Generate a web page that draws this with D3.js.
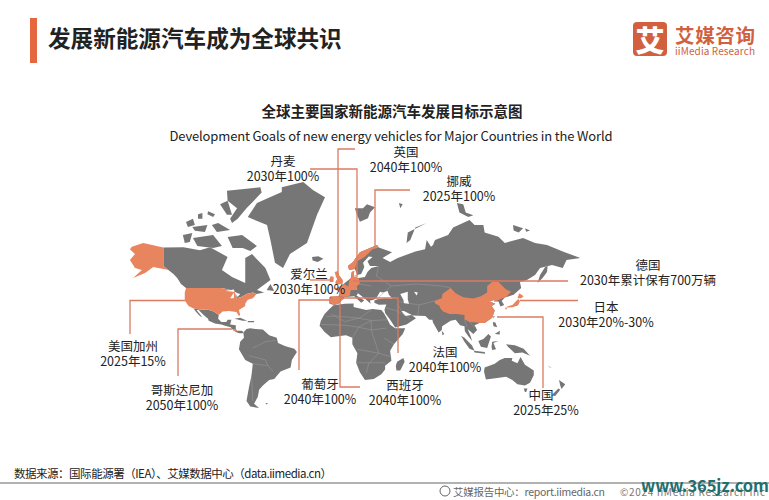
<!DOCTYPE html>
<html>
<head>
<meta charset="utf-8">
<title>全球主要国家新能源汽车发展目标示意图</title>
<script src="https://cdnjs.cloudflare.com/ajax/libs/d3/7.8.5/d3.min.js"></script>
<style>
  html, body { margin: 0; padding: 0; background: #fff; }
  text { font-family: "Noto Sans CJK SC", "Noto Sans", sans-serif; fill: #222; }
</style>
</head>
<body>
<div id="chart"></div>
<script>
// annotated targets
var countries = ["丹麦", "英国", "挪威", "爱尔兰", "德国", "日本", "法国", "西班牙", "葡萄牙", "美国加州", "哥斯达尼加", "中国"];
var targets = ["2030年100%", "2040年100%", "2025年100%", "2030年100%", "2030年累计保有700万辆", "2030年20%-30%",
  "2040年100%", "2040年100%", "2040年100%", "2025年15%", "2050年100%", "2025年25%"];

// outlines, [lon, lat]
var land = [
  // canada
  [[-141,69.8],[-125,70],[-112,68.6],[-104,70],[-90,65.5],[-94.5,58],[-86.5,54.5],[-76,51.5],[-76,65],[-70.6,66.8],[-60,59],[-56,53],[-66.7,47.7],[-61,46],[-67,45],[-70,46],[-75,45],[-79,43],[-83,42],[-83,46],[-89,48],[-95,49],[-123,49],[-127,51],[-130,54],[-133,56],[-141,60]],
  // mexico + central america
  [[-117,32.5],[-111,31.3],[-106,31.5],[-101,29.5],[-97,26],[-97.5,22],[-95,18.5],[-91,18.5],[-90,21],[-87,21],[-88,16],[-83.5,15],[-83.5,11],[-82.5,9.5],[-79,9.5],[-77.3,8.5],[-78,7.5],[-80.5,7.5],[-83,8.3],[-85.7,10],[-87.5,13],[-92,14.5],[-95,16],[-100,17],[-105,20],[-105.5,22],[-109,26],[-113,31],[-114.7,31],[-110,23.5],[-112,25],[-115,29]],
  // greenland
  [[-47,82.6],[-30,83.5],[-22,82.1],[-12.7,80.9],[-19,77.9],[-27,71.5],[-40.5,66.8],[-46,59],[-52.4,62],[-56,72.2],[-58.7,75.8],[-74,77.5],[-66.7,79.9],[-47,81.8]],
  // arctic canada
  [[-90.5,82],[-64,82.6],[-63,81.7],[-75,79],[-82,77.2],[-86.5,76.3],[-88,77.2],[-82.5,79],[-90,80.3]],
  [[-96,79.7],[-90,80.3],[-86.5,77.9],[-90.5,77.9]],
  [[-123,76.5],[-117.5,77.2],[-116,75.8],[-121.5,75.3]],
  [[-113.5,78],[-110,78.2],[-110,77.2],[-113.5,77.2]],
  [[-105.5,78.5],[-100,78],[-101.5,77.5],[-106,78]],
  [[-118,75.3],[-106,75.8],[-108,74.1],[-116,74.4]],
  [[-102.5,75.8],[-97.5,76.3],[-88,74.6],[-98.5,74.1]],
  [[-125.5,73.4],[-118,73.9],[-120,71.7],[-124,71.5]],
  [[-117.5,72.7],[-101.5,73.4],[-94.5,70.5],[-101.5,69.6],[-114,70.5]],
  [[-90,72.9],[-78.5,73.4],[-66.7,70.5],[-72,68.2],[-78,69.6],[-86,69.6]],
  [[-59,47.7],[-56,51],[-53,47]],
  // caribbean
  [[-84.5,22],[-80,23],[-74.5,20],[-78,20]],
  [[-74,19.5],[-69,19.5],[-69,18.3],[-74,18.2]],
  // south america
  [[-77.5,8],[-75,11],[-72,12],[-68,11],[-62,10.5],[-57,6],[-51,4],[-50,0],[-44,-2.5],[-37,-4.5],[-35,-7],[-39,-14],[-40,-22],[-48,-26],[-53,-34],[-57,-35],[-62,-39],[-65,-42],[-66,-47],[-69,-52],[-65,-55],[-72,-54],[-75,-50],[-73,-40],[-71,-30],[-70,-18],[-76,-14],[-81,-5],[-80,1],[-77,4]],
  // africa
  [[-6,35.8],[3,37],[10,37.3],[10,34],[15,32.5],[20,31],[25,32],[32,31],[34,28],[37,21],[39,15.5],[43,12],[51,12],[49,7],[42,-1],[39,-6],[40,-15],[35,-20],[35,-24],[32,-29],[26,-34],[19,-35],[15,-27],[12,-17],[13,-8],[9,-1],[9,4],[4,6],[-4,5],[-8,4.5],[-13,8.5],[-17,14.5],[-16,20],[-13,27],[-10,31]],
  [[49.5,-12],[50.5,-16],[47,-25],[44,-25],[43.5,-20],[44.5,-16]],
  // eurasia
  [[-9,37],[-9.5,39],[-9,43],[-2,43.5],[-1,46],[-4.5,48.5],[-1.5,49.5],[2,51],[4,52],[8,54],[8.5,57],[10.5,57.5],[10,54.5],[14,54],[19,54.5],[21,57],[24,59],[30,60],[23,60],[21,63],[25,65.5],[22,65.7],[17.5,62],[18.5,59.5],[16,56],[13,55.5],[11,58.5],[6.5,58],[5.5,60],[9.5,62.5],[15,67.7],[28.6,71],[30,69.8],[40.5,67.7],[33,65],[39,62.5],[45,65],[59,68],[66.7,69],[68,72.2],[71.4,70.2],[73,71],[74.6,72.2],[85,73.4],[89,75.2],[102,77],[106,75.8],[113,75.8],[114,74],[125,73],[130,71.5],[144.5,72.7],[154,71.5],[163.5,71],[176,68],[190,65],[179,63.7],[176,59],[167.5,60.6],[158,59],[154,55.5],[147.6,53],[142,52],[143,49],[137,44.5],[130,42.5],[127.5,39.5],[129.5,36],[126.5,34.5],[125,39],[121.5,39],[122,40.5],[118,39],[122.5,37],[119.5,35],[122,30.5],[120,23],[114,17.5],[110,17.5],[106,15],[108,10],[105,7],[100.5,11],[103,5],[104,1.5],[100.5,6],[98.3,9],[98,14],[94.5,15],[91,21],[87,20],[80.3,14],[80,10],[77.5,8],[73,18],[72.5,21],[70,21],[67,25],[57,25.5],[50,30],[48,30],[51,25],[56,26],[59.5,22.5],[52,16],[43,12.7],[39,21],[35,28],[34.5,31.5],[36,36.5],[30,36.2],[26.5,38],[26.5,40],[29,41],[35,42],[41,41.5],[38,44.5],[37,47],[33,46],[31,46.5],[28,42],[26,40.5],[23,40],[23.5,37],[19.5,41],[13.5,45.5],[12.3,44],[18.5,40],[16,38],[10.5,43.5],[3,43],[0,39.5],[-2,37],[-5.5,36]],
  // islands north
  [[-23,65.5],[-18,65.8],[-14,64.5],[-18.5,62.5],[-22.5,63.5]],
  [[11,79],[17.5,79],[20.6,79.7],[27,79.2],[23,78.3],[21.4,77.3],[15,76.6],[12.7,77.9]],
  [[52,71.5],[53,74],[68,76.3],[59,75.2],[55,72.2]],
  [[92,79.9],[97,79.7],[99,78.3],[105,77.8],[101,77.5],[94,78.3]],
  [[136.5,75.8],[144.5,75],[141,74],[137,74.5]],
  [[146,75],[150,74.5],[147,74.2]],
  [[46,79.9],[49,79.7],[47,79]],
  [[164,60],[162,59.5],[158,55.5],[156,51.5],[160,54],[163.5,57]],
  // islands south and east
  [[80,9.5],[82,7],[80.5,6]],
  [[121,25],[122,25],[121,22]],
  [[120.5,18.5],[122.5,18],[124,13],[121,14]],
  [[122,7],[126,9.5],[126,6.5]],
  [[109,1.5],[113,3],[117,7],[119,5],[117.5,0.5],[116,-4],[111,-3]],
  [[95.3,5.5],[98,4],[104,-2],[106,-6],[102,-4.5],[98,1]],
  [[105.5,-6],[114,-7],[114.5,-8.5],[106,-7.5]],
  [[119.5,-3],[120,1],[125,1.5],[121,0],[123,-5],[120,-5.5]],
  [[131,-1],[138,-1.7],[145,-4.5],[150,-10],[144,-7.5],[138,-8],[132.5,-3]],
  [[114,-22],[122,-18],[126,-14],[130,-12],[136,-12],[135.5,-15],[140,-17.5],[142.5,-11],[146,-19],[153,-25],[153,-30],[150,-37],[146,-39],[140,-38],[136,-35],[131,-31.5],[124,-33],[115,-34.5],[113.5,-26]],
  [[145,-41],[148,-41],[147,-43.5],[146,-43.5]],
  [[173,-35],[178,-38],[175,-41.5],[174,-39]],
  [[172.5,-41],[174,-42],[170,-46.5],[167,-46]],
  [[164,-20],[167,-22],[166,-22]],
  [[-60,-51.5],[-58,-51.5],[-59,-52.5]]
];

var highlighted = [
  // alaska
  [[-166,70.2],[-157,71.5],[-141,69.8],[-141,60],[-133,56],[-137,58],[-149,59.5],[-155.5,56.5],[-165,54],[-158,58],[-163.5,59],[-167.5,63.7],[-163.5,66.8],[-167.5,69]],
  // usa
  [[-123,49],[-95,49],[-89,48],[-84,46],[-83,42],[-79,43],[-75,45],[-70,46],[-67,45],[-70,42],[-74,40.5],[-76,37],[-76,35],[-81,31],[-80,26],[-81,25],[-83,29],[-89,30],[-94,29.5],[-97,26],[-101,29.5],[-106,31.5],[-111,31.3],[-117,32.5],[-121,35],[-124,40],[-124,46]],
  // costa rica
  [[-85.7,11],[-83.7,11],[-82.6,9.6],[-83,8.3],[-85.7,10]],
  // china
  [[74,39.5],[80,42],[80.5,45],[87,49],[91,45.5],[97,42.7],[105,41.7],[111,43.5],[116,46],[116,50],[120,52],[125,52],[131,48],[135,46.5],[131,43],[128,42],[124.3,40],[121.5,39],[122,40.5],[118,39],[122.5,37],[119.5,35],[122,30.5],[120,23],[114,17.5],[110,17.5],[108,18],[102,18.5],[98,21.5],[98,26],[92,27],[86,27],[81,29.5],[79,32.5],[78,35.5],[75,37]],
  // japan
  [[130.9,34],[136,36],[140,40.5],[141.3,41],[142,39],[140.5,35.5],[136,33.7],[132,33.5]],
  [[140,42],[141.5,45.5],[145,43.5],[143,42]],
  [[130,33.5],[131.8,33],[131,31]],
  // norway
  [[28.6,71],[15,67.7],[9.5,62.5],[5.5,60],[6.5,58],[11,58.5],[13,63],[19,65.6],[25,69],[30,69.8]],
  // denmark
  [[8,55],[8.5,57],[10.5,57.5],[10,55],[12.5,55.5],[12,54.7]],
  // uk, ireland
  [[-4,50.5],[1.5,51.2],[1.5,53],[-1.5,55.5],[-2.5,57.5],[-5,57],[-4,54.5],[-3,53.5],[-4.5,52]],
  [[-9,52],[-6,52],[-5.7,54.5],[-8,55],[-9,54]],
  // france
  [[-1.5,43.4],[-1,46],[-4.5,48.5],[-1.5,49.5],[2.5,51],[8,49],[7,44],[3,43]],
  // germany
  [[6,51],[7,53.5],[9,55],[14,54],[15,51],[12.5,50],[13,47.7],[7.5,47.7],[6,49.5]],
  // spain, portugal
  [[-9,43.5],[-2,43.5],[3,42],[0,39.5],[-2,37],[-5.5,36],[-7.3,37.2],[-7,42]],
  [[-9,37],[-9.5,39],[-9,42],[-7,42],[-7.3,37.2]]
];

var lakes = [
  [[-92,47],[-85,48],[-84.5,46.5]],
  [[-88,42],[-85,46],[-85,42]],
  [[-84,46],[-80,45],[-82,43]],
  [[-83,41.7],[-76,44],[-79,43.2]],
  [[47,45],[53,46.5],[53,41],[54,37],[50,37.5],[49.5,40.5]],
  [[58,46.5],[61,46],[60,44]]
];

var borders = [
  [[-12,24],[-5,25],[12,23],[25,20],[37,21]],
  [[-8,27],[3,19],[15,23],[24,31]],
  [[-16,16],[4,15],[14,13],[24,10],[36,12]],
  [[9,4],[14,13],[24,20]],
  [[24,20],[24,10],[30,-8],[22,-18],[20,-28]],
  [[13,-5],[30,-8],[40,-11]],
  [[12,-17],[35,-17]],
  [[34,4],[42,-1]],
  [[-70,-18],[-58,-20],[-54,-26]],
  [[-70,-4],[-60,1],[-52,2]],
  [[-73,-10],[-60,-14],[-58,-20]],
  [[-71,-30],[-70,-50]],
  [[28,41],[40,50],[60,51],[80,50],[87,49]],
  [[30,60],[28,55],[40,50]],
  [[24,50],[15,51]],
  [[46,39],[62,36],[74,39.5]],
  [[45,37],[48,30]],
  [[62,36],[61,25]],
  [[36,33],[45,30],[55,22]],
  [[98,21.5],[100,13]],
  [[102,18.5],[106,13]]
];

var mapLats = [-55, -35, -11, 0, 10, 26, 36, 43, 49, 60, 65, 71, 77, 83.5];
var mapYs = [408, 380, 357, 343, 330, 315, 305, 297, 288, 266, 258, 245, 220, 182];

var leaders = [
  [[338,275],[338,149],[355,149]],
  [[310,169],[357,169],[357,277]],
  [[375,247],[375,190],[410,190]],
  [[310,280],[333,280]],
  [[353,281],[568,281]],
  [[520,300.5],[578,300.5]],
  [[497,317],[543,317],[543,388]],
  [[340,298],[398,298],[398,353]],
  [[340,298],[340,387],[360,387]],
  [[330,300],[299,300],[299,370]],
  [[185,300.5],[130,300.5],[130,334]],
  [[232,329],[178,329],[178,376]]
];
var labelPos = [[283,160],[406,151],[459,180],[309,273],[648,264],[606,306],[445,351],[405,384],[320,383],[133,345],[182,389],[541,394]];
var targetPos = [[283,175],[406,166],[459,195],[309,288],[648,279],[606,321],[445,366],[405,399],[320,398],[133,360],[182,404],[546,409]];

var w = 769, h = 500;
var svg = d3.select("#chart").append("svg").attr("width", w).attr("height", h)
  .style("display", "block");

var x = d3.scaleLinear().domain([0, 100]).range([341, 467]);
var y = d3.scaleLinear().domain(mapLats).range(mapYs);
var outline = d3.line().x(function(d) { return x(d[0]); }).y(function(d) { return y(d[1]); }).curve(d3.curveLinearClosed);
var open = d3.line().x(function(d) { return x(d[0]); }).y(function(d) { return y(d[1]); });

var grey = "#767676", orange = "#E8855F", lineCol = "#DB7B60";

svg.append("g").selectAll("path").data(land).enter().append("path")
  .attr("d", outline).attr("fill", grey);
svg.append("g").selectAll("path").data(borders).enter().append("path")
  .attr("d", open).attr("fill", "none").attr("stroke", "#9c9c9c").attr("stroke-width", 0.5);
svg.append("g").selectAll("path").data(highlighted).enter().append("path")
  .attr("d", outline).attr("fill", orange);
svg.append("g").selectAll("path").data(lakes).enter().append("path")
  .attr("d", outline).attr("fill", "#fff");

// leader lines
svg.append("g").selectAll("path").data(leaders).enter().append("path")
  .attr("d", d3.line()).attr("fill", "none").attr("stroke", lineCol).attr("stroke-width", 1.3);

// annotations
svg.append("g").selectAll("text").data(countries).enter().append("text")
  .attr("x", function(d, i) { return labelPos[i][0]; })
  .attr("y", function(d, i) { return labelPos[i][1]; })
  .attr("text-anchor", "middle").attr("dominant-baseline", "central")
  .attr("font-size", 12.5).text(function(d) { return d; });
svg.append("g").selectAll("text").data(targets).enter().append("text")
  .attr("x", function(d, i) { return targetPos[i][0]; })
  .attr("y", function(d, i) { return targetPos[i][1]; })
  .attr("text-anchor", "middle").attr("dominant-baseline", "central")
  .attr("font-size", 12.5).text(function(d) { return d; });

// header
svg.append("rect").attr("x", 30).attr("y", 18).attr("width", 7).attr("height", 45).attr("fill", "#E4673F");
svg.append("text").attr("x", 48).attr("y", 37).attr("dominant-baseline", "central")
  .attr("font-size", 22.6).attr("font-weight", 700).attr("fill", "#1a1a1a").text("发展新能源汽车成为全球共识");
svg.append("text").attr("x", 392).attr("y", 110).attr("text-anchor", "middle").attr("dominant-baseline", "central")
  .attr("font-size", 14.5).attr("font-weight", 700).text("全球主要国家新能源汽车发展目标示意图");
svg.append("text").attr("x", 391).attr("y", 135).attr("text-anchor", "middle").attr("dominant-baseline", "central")
  .attr("font-size", 13).attr("textLength", 443).text("Development Goals of new energy vehicles for Major Countries in the World");

// logo
var brand = "#D2603F";
svg.append("rect").attr("x", 633).attr("y", 22).attr("width", 34).attr("height", 34).attr("rx", 4).attr("fill", brand);
svg.append("text").attr("x", 650).attr("y", 39).attr("text-anchor", "middle").attr("dominant-baseline", "central")
  .attr("font-size", 29).attr("font-weight", 900).style("fill", "#fff").text("艾");
svg.append("text").attr("x", 675).attr("y", 34).attr("dominant-baseline", "central")
  .attr("font-size", 19.5).attr("font-weight", 700).attr("textLength", 80).style("fill", brand).text("艾媒咨询");
svg.append("text").attr("x", 675).attr("y", 50).attr("dominant-baseline", "central")
  .attr("font-size", 10).attr("textLength", 80).style("fill", brand).text("iiMedia Research");

// footer
svg.append("text").attr("x", 14).attr("y", 473).attr("dominant-baseline", "central")
  .attr("font-size", 11.5).attr("textLength", 318).attr("fill", "#333").text("数据来源：国际能源署（IEA）、艾媒数据中心（data.iimedia.cn）");
svg.append("line").attr("x1", 0).attr("x2", 769).attr("y1", 483).attr("y2", 483).attr("stroke", "#999").attr("stroke-width", 1.5);
svg.append("text").attr("x", 453).attr("y", 491).attr("dominant-baseline", "central")
  .attr("font-size", 10.5).attr("textLength", 152).style("fill", "#666").text("艾媒报告中心：report.iimedia.cn");
svg.append("circle").attr("cx", 445).attr("cy", 491).attr("r", 5).attr("fill", "none").attr("stroke", "#666");
svg.append("text").attr("x", 620).attr("y", 491).attr("dominant-baseline", "central")
  .attr("font-size", 10).attr("textLength", 145).style("fill", "#777").text("©2024  iiMedia Research  Inc");
svg.append("text").attr("x", 641).attr("y", 485).attr("dominant-baseline", "central")
  .attr("font-size", 16.5).attr("font-weight", 700).attr("textLength", 128).style("fill", "#1f6f6f").text("www.365jz.com");
</script>
</body>
</html>
